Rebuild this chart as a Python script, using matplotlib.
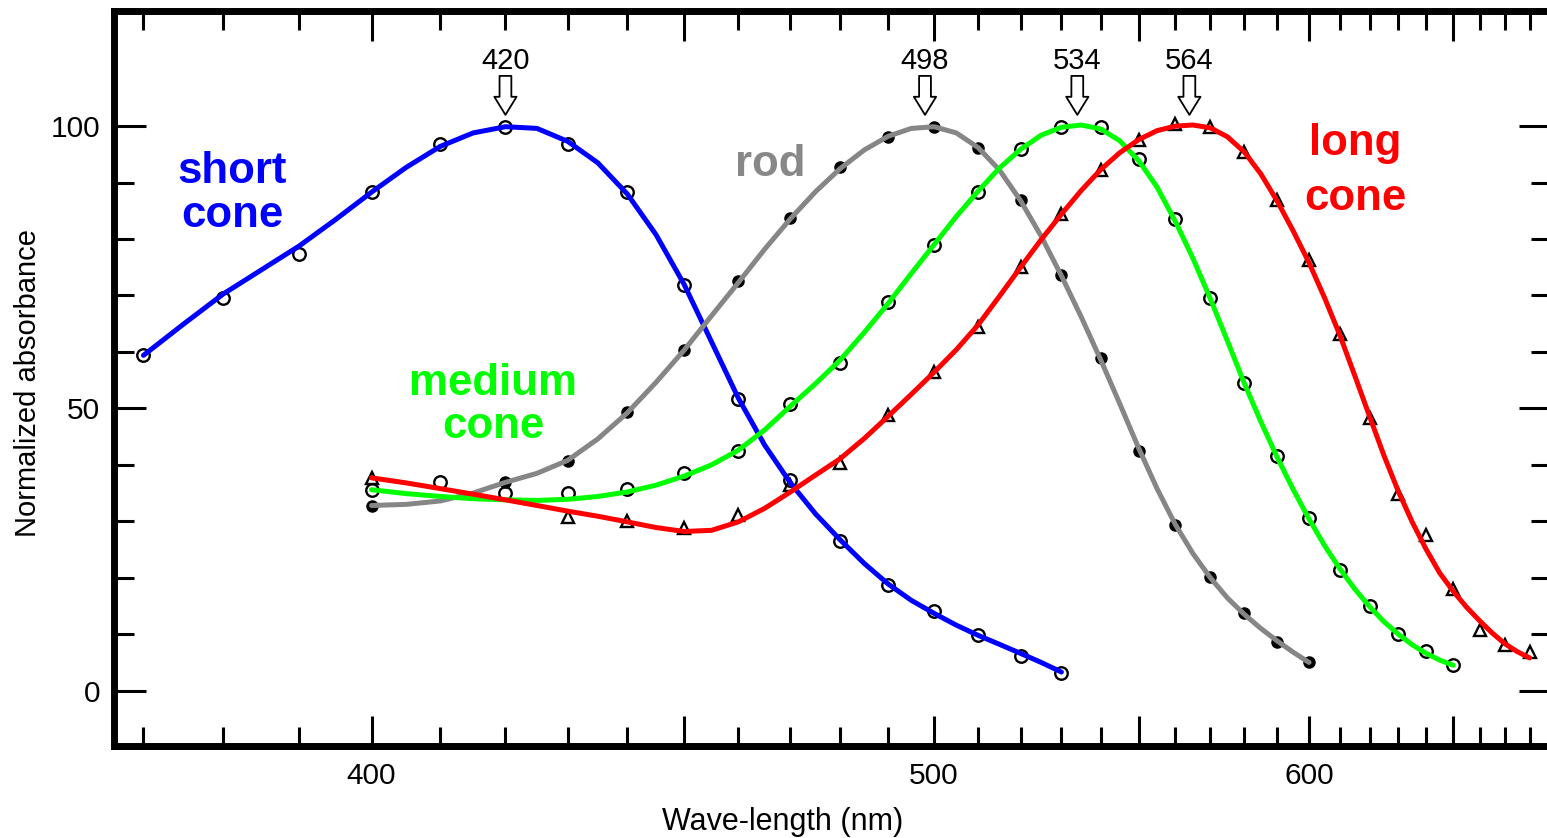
import numpy as np
import matplotlib
matplotlib.use("Agg")
import matplotlib.pyplot as plt
from matplotlib.patches import FancyArrowPatch
from matplotlib.ticker import FixedLocator, FuncFormatter

plt.rcParams["font.family"] = ["Liberation Sans", "DejaVu Sans"]

# measured points (% of peak absorbance), every 10 nm; nan = symbol hidden
short_nm = np.arange(370, 531, 10)
short_pts = [59.4, 69.6, 77.4, 88.3, 96.8, 99.9, 96.8, 88.3, 71.9, 51.6,
             37.4, 26.6, 18.8, 14.2, 9.9, 6.1, 3.2]
rod_nm = np.arange(400, 601, 10)
rod_pts = [32.8, np.nan, 36.9, 40.6, 49.3, 60.4, 72.5, 83.8, 92.7, 98.0,
           99.9, 96.2, 87.0, 73.7, 59.0, 42.4, 29.4, 20.2, 13.8, 8.7, 5.0]
medium_nm = np.arange(400, 651, 10)
medium_pts = [35.6, 36.9, 35.1, 35.1, 35.8, 38.6, 42.4, 50.7, 58.1, 68.8,
              79.0, 88.4, 95.9, 99.9, 99.9, 94.1, 83.5, 69.5, 54.5, 41.6,
              30.5, 21.4, 15.0, 10.0, 7.0, 4.5]
long_nm = np.arange(400, 681, 10)
long_pts = [37.7, np.nan, np.nan, 30.7, 30.0, 28.9, 31.2, 36.5, 40.4, 48.9,
            56.4, 64.5, 75.0, 84.4, 92.3, 97.6, 100.3, 99.9, 95.4, 86.9,
            76.2, 63.1, 48.3, 34.9, 27.5, 18.0, 10.8, 8.1, 6.9]

# fitted template curves, read every 5 nm
short_curve_nm = np.arange(370, 531, 5)
short_curve = [59.4, 65.0, 70.3, 74.6, 78.8, 83.5, 88.3, 92.7, 96.4, 98.8,
               99.9, 99.6, 97.3, 93.5, 88.0, 80.8, 72.0, 61.8, 51.8, 43.5,
               36.8, 31.3, 26.7, 22.5, 18.9, 16.0, 13.7, 11.6, 9.8, 8.2,
               6.6, 5.0, 3.3]
rod_curve_nm = np.arange(400, 601, 5)
rod_curve = [32.8, 33.0, 33.6, 35.0, 36.9, 38.5, 40.8, 44.6, 49.2, 54.6,
             60.3, 66.4, 72.3, 78.2, 83.6, 88.4, 92.5, 95.8, 98.2, 99.6,
             99.9, 98.8, 96.2, 92.2, 86.8, 80.5, 73.5, 66.2, 58.6, 50.8,
             43.0, 35.8, 29.5, 24.3, 20.0, 16.4, 13.5, 11.0, 8.8, 6.8, 5.0]
medium_curve_nm = np.arange(400, 651, 5)
medium_curve = [35.6, 34.9, 34.4, 34.0, 33.8, 33.7, 33.9, 34.4, 35.2, 36.4,
                38.0, 40.0, 42.6, 46.2, 50.4, 54.4, 58.6, 63.5, 68.6, 73.9,
                79.0, 84.0, 88.5, 92.6, 95.9, 98.4, 99.8, 100.2, 99.5, 97.4,
                93.9, 89.2, 83.2, 76.6, 69.4, 61.9, 54.4, 47.6, 41.3, 35.6,
                30.4, 25.7, 21.6, 18.0, 14.9, 12.2, 10.0, 8.1, 6.6, 5.4, 4.5]
long_curve_nm = np.arange(400, 681, 5)
long_curve = [37.7, 36.8, 35.8, 34.8, 33.8, 32.8, 31.8, 30.9, 29.9, 28.9,
              28.2, 28.4, 29.9, 32.3, 35.2, 38.2, 41.1, 44.7, 48.6, 52.5,
              56.4, 60.4, 64.8, 69.9, 75.0, 79.9, 84.4, 88.6, 92.3, 95.3,
              97.6, 99.2, 100.0, 100.2, 99.7, 98.1, 95.4, 91.5, 86.7, 81.4,
              75.8, 69.6, 63.0, 55.8, 48.6, 41.6, 35.3, 29.8, 25.0, 20.8,
              17.6, 14.8, 12.4, 10.2, 8.3, 6.9, 5.8]

peak_nm = [420, 498, 534, 564]


def _recip(x):
    x = np.asarray(x, dtype=float)
    with np.errstate(divide="ignore", invalid="ignore"):
        return -1.0 / x


fig = plt.figure(figsize=(15.47, 8.38), dpi=100)
ax = fig.add_axes([0.0737, 0.1098, 0.9289, 0.8771])

# data symbols first, fitted curves drawn over them
sym = dict(ls="none", ms=9, mfc="none", mec="black", mew=1.7, zorder=2)
ax.plot(short_nm, short_pts, marker="o", **sym)
ax.plot(medium_nm, medium_pts, marker="o", **sym)
ax.plot(long_nm, long_pts, marker="^", **sym)
ax.plot(rod_nm, rod_pts, ls="none", marker="o", ms=8, mfc="black", mec="black", zorder=2)

crv = dict(lw=3.6, solid_capstyle="round", solid_joinstyle="round", zorder=3)
ax.plot(short_curve_nm, short_curve, color="#0000ff", **crv)
ax.plot(rod_curve_nm, rod_curve, color="#868686", **crv)
ax.plot(medium_curve_nm, medium_curve, color="#00ff00", **crv)
ax.plot(long_curve_nm, long_curve, color="#ff0000", **crv)

ax.set_xscale("function", functions=(_recip, _recip))
ax.set_xlim(366.45, 688.9)
ax.set_ylim(-9.8, 120.4)

ax.xaxis.set_major_locator(FixedLocator([400, 450, 500, 550, 600, 650]))
ax.xaxis.set_minor_locator(FixedLocator(list(range(370, 690, 10))))
ax.xaxis.set_major_formatter(FuncFormatter(lambda v, pos: f"{v:.0f}" if round(v) % 100 == 0 else ""))
ax.xaxis.set_minor_formatter(FuncFormatter(lambda v, pos: ""))
ax.yaxis.set_major_locator(FixedLocator([0, 50, 100]))
ax.yaxis.set_minor_locator(FixedLocator(list(range(0, 101, 10))))

ax.tick_params(which="both", direction="in", top=True, right=True, width=2.2, labelsize=21.5)
ax.tick_params(axis="x", which="major", length=21.5, pad=11.5)
ax.tick_params(axis="x", which="minor", length=14)
ax.tick_params(axis="y", which="major", length=23, pad=10)
ax.tick_params(axis="y", which="minor", length=14.5)
for sp in ax.spines.values():
    sp.set_linewidth(5)

# peak markers
for p in peak_nm:
    ax.add_patch(FancyArrowPatch((p, 108.9), (p, 102.0),
                                 arrowstyle="simple,head_length=1.3,head_width=1.6,tail_width=0.85",
                                 mutation_scale=10, fc="white", ec="black", lw=1.3,
                                 shrinkA=0, shrinkB=0, zorder=5))
    ax.text(p, 110.2, str(p), ha="center", va="baseline", fontsize=21)

lbl = dict(ha="center", va="baseline", fontsize=31.5, fontweight="bold")
ax.text(381.1, 90.0, "short", color="#0000ff", **lbl)
ax.text(381.1, 82.2, "cone", color="#0000ff", **lbl)
ax.text(466.0, 91.1, "rod", color="#888888", **lbl)
ax.text(418.1, 52.4, "medium", color="#00ff00", **lbl)
ax.text(418.1, 44.8, "cone", color="#00ff00", **lbl)
ax.text(615.1, 94.9, "long", color="#ff0000", **lbl)
ax.text(615.1, 85.2, "cone", color="#ff0000", **lbl)

fig.text(783 / 1547, 1 - 830 / 838, "Wave-length (nm)", ha="center", va="baseline", fontsize=22)
fig.text(28 / 1547, 1 - 383 / 838, "Normalized absorbance", ha="center", va="center",
         rotation=90, fontsize=21)

fig.savefig("out.png", dpi=100)
